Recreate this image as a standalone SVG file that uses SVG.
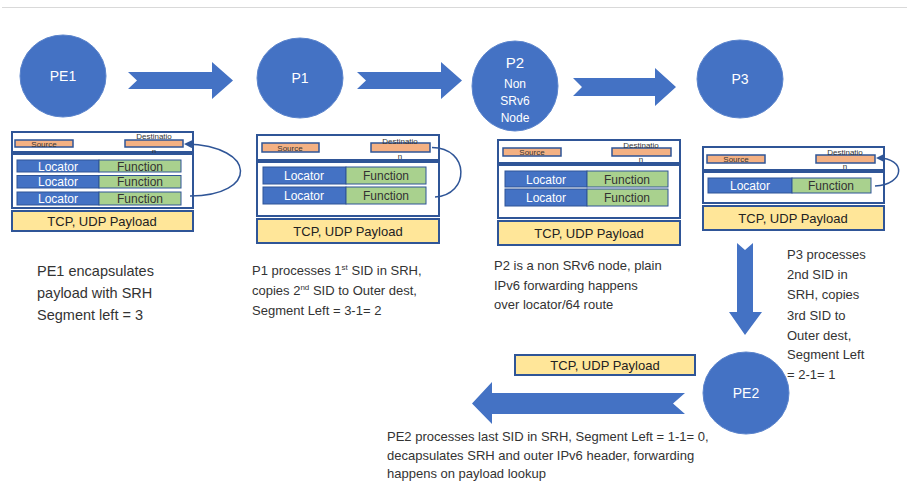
<svg xmlns="http://www.w3.org/2000/svg" width="907" height="483" viewBox="0 0 907 483">
  <style>
    .node { fill: #4472C4; stroke: #5B84CC; stroke-width: 1; }
    .nlabel { font-family: "Liberation Sans", Arial, sans-serif; font-size: 14px; fill: #ffffff; text-anchor: middle; }
    .arrow { fill: #4472C4; }
    .box { fill: #ffffff; stroke: #2F5597; stroke-width: 2; }
    .pay { fill: #FFE699; stroke: #2F5597; stroke-width: 2; }
    .addr { fill: #F4B183; stroke: #2F5597; stroke-width: 1.5; }
    .loc { fill: #4472C4; stroke: #2F5597; stroke-width: 1; }
    .fn { fill: #A9D18E; stroke: #2F5597; stroke-width: 1; }
    .tloc { font-family: "Liberation Sans", Arial, sans-serif; font-size: 12px; fill: #ffffff; text-anchor: middle; }
    .tfn { font-family: "Liberation Sans", Arial, sans-serif; font-size: 12px; fill: #333333; text-anchor: middle; }
    .tpay { font-family: "Liberation Sans", Arial, sans-serif; font-size: 13px; fill: #222222; text-anchor: middle; }
    .tsm { font-family: "Liberation Sans", Arial, sans-serif; font-size: 8px; fill: #333333; text-anchor: middle; }
    .desc { font-family: "Liberation Sans", Arial, sans-serif; font-size: 13px; fill: #333333; }
    .big { font-size: 14.5px; }
    .sup { font-size: 8px; }
    .loop { fill: none; stroke: #2F5597; stroke-width: 1.5; }
  </style>
  <defs>
    <marker id="ah" markerWidth="8" markerHeight="8" refX="6" refY="4" orient="auto" markerUnits="userSpaceOnUse">
      <path d="M0,0 L8,4 L0,8 Z" fill="#2F5597"/>
    </marker>
  </defs>

  <rect width="907" height="483" fill="#ffffff"/>
  <line x1="2" y1="7.5" x2="907" y2="7.5" stroke="#d9d9d9" stroke-width="1"/>

  <!-- connectors: block arrows between routers -->
  <g id="connectors">
    <polygon class="arrow" points="128,72 212,72 212,62 233,80.5 212,99 212,89 128,89 137,80.5"/>
    <polygon class="arrow" points="357,72 441,72 441,62 462,80.5 441,99 441,89 357,89 366,80.5"/>
    <polygon class="arrow" points="573,78 655,78 655,68 676,87 655,106 655,96 573,96 582,87"/>
    <polygon class="arrow" points="737,243 745,250 753,243 753,312 762,312 745,335 729,312 737,312"/>
    <polygon class="arrow" points="685,393 673,403.5 685,414 492,414 492,424 472,403.5 492,382 492,393"/>
  </g>

  <!-- routers -->
  <g id="PE1">
    <ellipse class="node" cx="63" cy="76" rx="43" ry="41"/>
    <text class="nlabel" x="63" y="81">PE1</text>
  </g>
  <g id="P1">
    <ellipse class="node" cx="300" cy="78" rx="43" ry="40"/>
    <text class="nlabel" x="300" y="83">P1</text>
  </g>
  <g id="P2">
    <ellipse class="node" cx="515" cy="86" rx="43" ry="45"/>
    <text class="nlabel" x="515" y="68" style="font-size:15px">P2</text>
    <text class="nlabel" x="515" y="88" style="font-size:12px">Non</text>
    <text class="nlabel" x="515" y="105" style="font-size:12px">SRv6</text>
    <text class="nlabel" x="515" y="122" style="font-size:12px">Node</text>
  </g>
  <g id="P3">
    <ellipse class="node" cx="740" cy="79" rx="43" ry="39"/>
    <text class="nlabel" x="740" y="84">P3</text>
  </g>
  <g id="PE2">
    <ellipse class="node" cx="746" cy="393" rx="43" ry="41"/>
    <text class="nlabel" x="746" y="398">PE2</text>
  </g>

  <!-- packet at PE1: three SIDs -->
  <g id="pkt-PE1">
    <rect class="box" x="12" y="132" width="181" height="20"/>
    <rect class="addr" x="15" y="140" width="58" height="7"/>
    <text class="tsm" x="44" y="147">Source</text>
    <rect class="addr" x="125" y="140" width="58" height="7"/>
    <text class="tsm" x="154" y="139">Destinatio</text>
    <text class="tsm" x="154" y="154">n</text>
    <rect class="box" x="12" y="154" width="181" height="54"/>
    <rect class="loc" x="17" y="160" width="82" height="12"/><rect class="fn" x="99" y="160" width="82" height="12"/>
    <text class="tloc" x="58" y="170.5">Locator</text><text class="tfn" x="140" y="170.5">Function</text>
    <rect class="loc" x="17" y="175.5" width="82" height="12.5"/><rect class="fn" x="99" y="175.5" width="82" height="12.5"/>
    <text class="tloc" x="58" y="186">Locator</text><text class="tfn" x="140" y="186">Function</text>
    <rect class="loc" x="17" y="192" width="82" height="13"/><rect class="fn" x="99" y="192" width="82" height="13"/>
    <text class="tloc" x="58" y="203">Locator</text><text class="tfn" x="140" y="203">Function</text>
    <rect class="pay" x="12" y="211" width="181" height="20"/>
    <text class="tpay" x="102" y="226">TCP, UDP Payload</text>
    <path class="loop" d="M190,196 C258,196 258,146 186,144" marker-end="url(#ah)"/>
  </g>

  <!-- packet at P1: two SIDs -->
  <g id="pkt-P1">
    <rect class="box" x="257" y="135" width="182" height="25"/>
    <rect class="addr" x="262" y="143" width="57" height="9"/>
    <text class="tsm" x="290" y="151">Source</text>
    <rect class="addr" x="371" y="143" width="59" height="9"/>
    <text class="tsm" x="400" y="144">Destinatio</text>
    <text class="tsm" x="400" y="159">n</text>
    <rect class="box" x="257" y="162" width="182" height="54"/>
    <rect class="loc" x="263" y="167" width="83" height="17"/><rect class="fn" x="346" y="167" width="80" height="17"/>
    <text class="tloc" x="304" y="180">Locator</text><text class="tfn" x="386" y="180">Function</text>
    <rect class="loc" x="263" y="187" width="83" height="17"/><rect class="fn" x="346" y="187" width="80" height="17"/>
    <text class="tloc" x="304" y="200">Locator</text><text class="tfn" x="386" y="200">Function</text>
    <rect class="pay" x="257" y="219" width="182" height="24"/>
    <text class="tpay" x="348" y="236">TCP, UDP Payload</text>
    <path class="loop" d="M435,197 C470,195 470,148 432,147.5"/>
  </g>

  <!-- packet at P2: unchanged -->
  <g id="pkt-P2">
    <rect class="box" x="498" y="140" width="182" height="23"/>
    <rect class="addr" x="503" y="148" width="58" height="8"/>
    <text class="tsm" x="532" y="155">Source</text>
    <rect class="addr" x="612" y="148" width="59" height="8"/>
    <text class="tsm" x="641" y="148">Destinatio</text>
    <text class="tsm" x="641" y="162">n</text>
    <rect class="box" x="498" y="165" width="182" height="53"/>
    <rect class="loc" x="505" y="171" width="82" height="16"/><rect class="fn" x="587" y="171" width="81" height="16"/>
    <text class="tloc" x="546" y="183.5">Locator</text><text class="tfn" x="627" y="183.5">Function</text>
    <rect class="loc" x="505" y="189" width="82" height="17"/><rect class="fn" x="587" y="189" width="81" height="17"/>
    <text class="tloc" x="546" y="202">Locator</text><text class="tfn" x="627" y="202">Function</text>
    <rect class="pay" x="498" y="221" width="182" height="24"/>
    <text class="tpay" x="589" y="238">TCP, UDP Payload</text>
  </g>

  <!-- packet at P3: one SID -->
  <g id="pkt-P3">
    <rect class="box" x="703" y="147" width="181" height="23"/>
    <rect class="addr" x="707" y="155" width="58" height="8"/>
    <text class="tsm" x="736" y="162">Source</text>
    <rect class="addr" x="816" y="155" width="59" height="8"/>
    <text class="tsm" x="845" y="155">Destinatio</text>
    <text class="tsm" x="845" y="169">n</text>
    <rect class="box" x="703" y="172" width="181" height="31"/>
    <rect class="loc" x="708" y="178" width="84" height="15"/><rect class="fn" x="792" y="178" width="79" height="15"/>
    <text class="tloc" x="750" y="190">Locator</text><text class="tfn" x="831" y="190">Function</text>
    <rect class="pay" x="703" y="206" width="181" height="24"/>
    <text class="tpay" x="793" y="223">TCP, UDP Payload</text>
    <path class="loop" d="M875,186 C906,184 906,158 878,158" marker-end="url(#ah)"/>
  </g>

  <!-- packet after PE2: payload only -->
  <g id="pkt-PE2">
    <rect class="pay" x="515" y="355" width="180" height="20"/>
    <text class="tpay" x="605" y="370">TCP, UDP Payload</text>
  </g>

  <!-- step descriptions -->
  <g id="notes">
    <text class="desc big" x="37" y="276">PE1 encapsulates</text>
    <text class="desc big" x="37" y="298">payload with SRH</text>
    <text class="desc big" x="37" y="320">Segment left = 3</text>

    <text class="desc" x="252" y="275">P1 processes 1<tspan class="sup" dy="-5">st</tspan><tspan dy="5"> SID in SRH,</tspan></text>
    <text class="desc" x="252" y="295">copies 2<tspan class="sup" dy="-5">nd</tspan><tspan dy="5"> SID to Outer dest,</tspan></text>
    <text class="desc" x="252" y="315">Segment Left = 3-1= 2</text>

    <text class="desc" x="494" y="270">P2 is a non SRv6 node, plain</text>
    <text class="desc" x="494" y="290">IPv6 forwarding happens</text>
    <text class="desc" x="494" y="309">over locator/64 route</text>

    <text class="desc" x="787" y="259">P3 processes</text>
    <text class="desc" x="787" y="279">2nd SID in</text>
    <text class="desc" x="787" y="299">SRH, copies</text>
    <text class="desc" x="787" y="320">3rd SID to</text>
    <text class="desc" x="787" y="340">Outer dest,</text>
    <text class="desc" x="787" y="359">Segment Left</text>
    <text class="desc" x="787" y="379">= 2-1= 1</text>

    <text class="desc" x="387" y="441">PE2 processes last SID in SRH, Segment Left = 1-1= 0,</text>
    <text class="desc" x="387" y="460">decapsulates SRH and outer IPv6 header, forwarding</text>
    <text class="desc" x="387" y="478">happens on payload lookup</text>
  </g>
</svg>
